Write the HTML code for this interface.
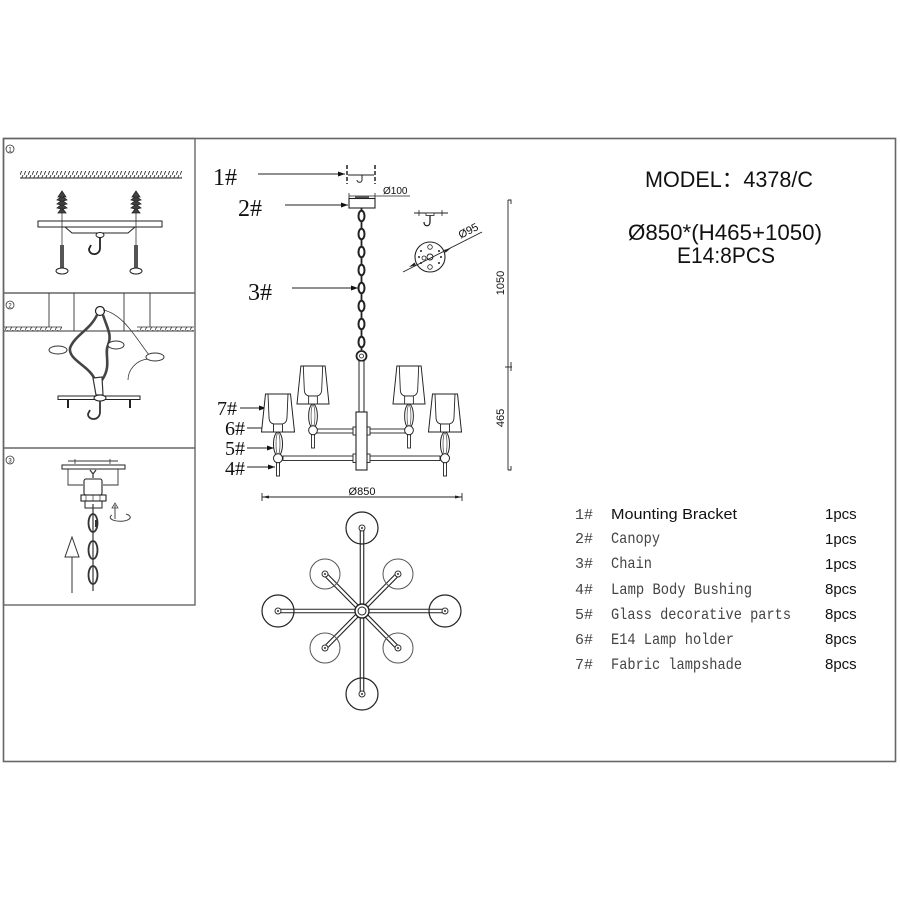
<!DOCTYPE html>
<html><head><meta charset="utf-8"><style>
html,body{margin:0;padding:0;background:#fff;}
svg{display:block;}
.s{font-family:"Liberation Serif","Noto Serif CJK SC",serif;fill:#111;}
.a{font-family:"Liberation Sans","Noto Sans CJK SC",sans-serif;fill:#111;}
.m{font-family:"Liberation Mono","Noto Sans CJK SC",monospace;fill:#444;}
</style></head><body>
<svg width="900" height="900" viewBox="0 0 900 900" xmlns="http://www.w3.org/2000/svg">
<defs>
<pattern id="hatch" patternUnits="userSpaceOnUse" width="4" height="7">
<line x1="0" y1="7" x2="3" y2="0" stroke="#333" stroke-width="0.9"/>
</pattern>
<pattern id="hatch2" patternUnits="userSpaceOnUse" width="5" height="5">
<line x1="0" y1="5" x2="3" y2="0" stroke="#333" stroke-width="0.8"/>
</pattern>
<marker id="ar" markerWidth="8" markerHeight="6" refX="7" refY="3" orient="auto" markerUnits="userSpaceOnUse">
<path d="M0,0.5 L7,3 L0,5.5 Z" fill="#111"/>
</marker>
<g id="lampL">
<polygon points="-12.5,394 12.5,394 16.5,432 -16.5,432" fill="#fff" stroke="#222" stroke-width="1"/>
<path d="M-10,394 L-9,417 Q-9,424 -3,424 L3,424 Q9,424 9,417 L10,394" fill="none" stroke="#222" stroke-width="0.9"/>
<rect x="-4.5" y="424" width="9" height="8" fill="#fff" stroke="#222" stroke-width="0.9"/>
<ellipse cx="0" cy="444" rx="4.5" ry="12" fill="#fff" stroke="#222" stroke-width="1"/>
<ellipse cx="0" cy="444" rx="2" ry="11" fill="none" stroke="#555" stroke-width="0.8"/>
<rect x="-1.5" y="462" width="3" height="14" fill="#fff" stroke="#222" stroke-width="0.9"/>
<circle cx="0" cy="458.3" r="4.5" fill="#fff" stroke="#222" stroke-width="1"/>
</g>
<g id="plug">
<polygon points="62,191 66,197 63,197 67,200 63,201 67,204 63,205 67,208 63,209 66,213 58,213 61,209 57,208 61,205 57,204 61,201 57,200 61,197 58,197" fill="#444" stroke="#222" stroke-width="0.8"/>
<line x1="62" y1="197" x2="62" y2="268" stroke="#333" stroke-width="0.8"/>
<rect x="60" y="245" width="4" height="23" fill="#555"/>
<ellipse cx="62" cy="271" rx="6" ry="3" fill="#fff" stroke="#222" stroke-width="1"/>
</g>
</defs>
<rect width="900" height="900" fill="#fff"/>

<!-- Frame -->
<rect x="3.5" y="138.5" width="892" height="623" fill="none" stroke="#666" stroke-width="1.6"/>
<rect x="3.5" y="138.5" width="191.5" height="466.5" fill="none" stroke="#666" stroke-width="1.4"/>
<line x1="3.5" y1="293" x2="195" y2="293" stroke="#666" stroke-width="1.4"/>
<line x1="3.5" y1="448" x2="195" y2="448" stroke="#666" stroke-width="1.4"/>

<!-- Panel 1 -->
<circle cx="10" cy="149" r="4" fill="none" stroke="#333" stroke-width="0.8"/>
<text x="10" y="151.5" font-size="6" text-anchor="middle" class="a">1</text>
<rect x="20" y="171" width="162" height="7" fill="url(#hatch)"/>
<line x1="20" y1="178" x2="182" y2="178" stroke="#222" stroke-width="1"/>
<use href="#plug"/>
<use href="#plug" transform="translate(74,0)"/>
<rect x="38" y="221" width="124" height="6" fill="#fff" stroke="#222" stroke-width="1"/>
<line x1="62" y1="221" x2="62" y2="227" stroke="#333" stroke-width="0.8"/>
<line x1="136" y1="221" x2="136" y2="227" stroke="#333" stroke-width="0.8"/>
<path d="M65,227 L72,233 L128,233 L135,227" fill="none" stroke="#222" stroke-width="1"/>
<ellipse cx="100" cy="235" rx="4" ry="2.5" fill="#fff" stroke="#222" stroke-width="1"/>
<path d="M100,237 L100,248 C100,256 89,256 89,249 L91,245" fill="none" stroke="#222" stroke-width="1.8"/>

<!-- Panel 2 -->
<circle cx="10" cy="305" r="4" fill="none" stroke="#333" stroke-width="0.8"/>
<text x="10" y="307.5" font-size="6" text-anchor="middle" class="a">2</text>
<line x1="49" y1="293" x2="49" y2="327" stroke="#333" stroke-width="0.9"/>
<line x1="74" y1="293" x2="74" y2="331" stroke="#333" stroke-width="0.9"/>
<line x1="124" y1="293" x2="124" y2="331" stroke="#333" stroke-width="0.9"/>
<line x1="150" y1="293" x2="150" y2="327" stroke="#333" stroke-width="0.9"/>
<rect x="4" y="327" width="58" height="4" fill="url(#hatch2)"/>
<rect x="137" y="327" width="57" height="4" fill="url(#hatch2)"/>
<line x1="4" y1="327" x2="62" y2="327" stroke="#333" stroke-width="0.8"/>
<line x1="137" y1="327" x2="194" y2="327" stroke="#333" stroke-width="0.8"/>
<line x1="4" y1="331" x2="194" y2="331" stroke="#333" stroke-width="1"/>
<circle cx="100" cy="311" r="4.5" fill="#fff" stroke="#222" stroke-width="1.2"/>
<path d="M97,315 C90,330 75,335 70,348 C68,360 90,366 95,380" fill="none" stroke="#444" stroke-width="2.6"/>
<path d="M103,315 C108,330 112,335 108,345 C104,354 112,366 102,380" fill="none" stroke="#444" stroke-width="2.6"/>
<path d="M103,310 C125,314 140,345 150,356" fill="none" stroke="#333" stroke-width="0.8"/>
<path d="M148,359 C136,360 128,370 128,380" fill="none" stroke="#333" stroke-width="0.8"/>
<ellipse cx="58" cy="350" rx="9" ry="4" fill="#fff" stroke="#333" stroke-width="1"/>
<ellipse cx="116" cy="345" rx="8" ry="4" fill="#fff" stroke="#333" stroke-width="1"/>
<ellipse cx="155" cy="357" rx="9" ry="4" fill="#fff" stroke="#333" stroke-width="1"/>
<path d="M93,378 L102,377 L103,395 L96,395 Z" fill="#fff" stroke="#333" stroke-width="1.2"/>
<rect x="58" y="396" width="82" height="3.5" fill="#fff" stroke="#222" stroke-width="1"/>
<line x1="68" y1="400" x2="68" y2="408" stroke="#222" stroke-width="2"/>
<line x1="130" y1="400" x2="130" y2="408" stroke="#222" stroke-width="2"/>
<ellipse cx="100" cy="398" rx="6" ry="3" fill="#fff" stroke="#222" stroke-width="1"/>
<path d="M100,401 L100,412 C100,421 88,421 88,414 L90,410" fill="none" stroke="#333" stroke-width="1.8"/>

<!-- Panel 3 -->
<circle cx="10" cy="460" r="4" fill="none" stroke="#333" stroke-width="0.8"/>
<text x="10" y="462.5" font-size="6" text-anchor="middle" class="a">3</text>
<line x1="68" y1="461" x2="118" y2="461" stroke="#333" stroke-width="0.9"/>
<line x1="75" y1="459" x2="75" y2="464" stroke="#333" stroke-width="0.8"/>
<line x1="110" y1="459" x2="110" y2="464" stroke="#333" stroke-width="0.8"/>
<rect x="62" y="465" width="63" height="4" fill="#fff" stroke="#222" stroke-width="1"/>
<path d="M68,469 L68,485 L83,485 M118,469 L118,485 L103,485" fill="none" stroke="#333" stroke-width="0.9"/>
<path d="M90,470 L93,474 L96,470 M93,474 L93,478" fill="none" stroke="#333" stroke-width="1.2"/>
<rect x="84" y="479" width="18" height="16" rx="2" fill="#fff" stroke="#222" stroke-width="1.1"/>
<rect x="81" y="495" width="25" height="6" fill="#fff" stroke="#222" stroke-width="1.1"/>
<line x1="86" y1="495" x2="86" y2="501" stroke="#333" stroke-width="0.7"/>
<line x1="93" y1="495" x2="93" y2="501" stroke="#333" stroke-width="0.7"/>
<line x1="100" y1="495" x2="100" y2="501" stroke="#333" stroke-width="0.7"/>
<path d="M85,501 L85,508 L102,508 L102,501" fill="none" stroke="#222" stroke-width="1"/>
<line x1="93" y1="504" x2="93" y2="591" stroke="#333" stroke-width="1.2"/>
<ellipse cx="93" cy="523" rx="4.5" ry="9" fill="none" stroke="#333" stroke-width="1.8"/>
<ellipse cx="93" cy="550" rx="4.5" ry="9" fill="none" stroke="#333" stroke-width="1.8"/>
<ellipse cx="93" cy="575" rx="4.5" ry="9" fill="none" stroke="#333" stroke-width="1.8"/>
<rect x="95" y="520" width="3" height="7" fill="#333"/>
<path d="M112,515 A10,4 0 1 0 126,514" fill="none" stroke="#444" stroke-width="1"/>
<line x1="115" y1="519" x2="115" y2="505" stroke="#444" stroke-width="1"/>
<path d="M112,508 L115,503 L118,508 Z" fill="none" stroke="#444" stroke-width="0.8"/>
<path d="M72,537 L79,557 L65,557 Z" fill="#fff" stroke="#333" stroke-width="1"/>
<line x1="72" y1="557" x2="72" y2="593" stroke="#333" stroke-width="1"/>

<!-- Main drawing labels -->
<text x="213" y="185" font-size="24" class="s">1#</text>
<line x1="258" y1="174" x2="345" y2="174" stroke="#222" stroke-width="1" marker-end="url(#ar)"/>
<text x="238" y="216" font-size="24" class="s">2#</text>
<line x1="285" y1="205" x2="348" y2="205" stroke="#222" stroke-width="1" marker-end="url(#ar)"/>
<text x="248" y="300" font-size="24" class="s">3#</text>
<line x1="292" y1="288" x2="358" y2="288" stroke="#222" stroke-width="1" marker-end="url(#ar)"/>
<text x="217" y="415" font-size="20" class="s">7#</text>
<line x1="240" y1="408" x2="266" y2="408" stroke="#222" stroke-width="1" marker-end="url(#ar)"/>
<text x="225" y="435" font-size="20" class="s">6#</text>
<line x1="247" y1="428" x2="274" y2="428" stroke="#222" stroke-width="1" marker-end="url(#ar)"/>
<text x="225" y="455" font-size="20" class="s">5#</text>
<line x1="247" y1="448" x2="274" y2="448" stroke="#222" stroke-width="1" marker-end="url(#ar)"/>
<text x="225" y="475" font-size="20" class="s">4#</text>
<line x1="247" y1="467" x2="275" y2="467" stroke="#222" stroke-width="1" marker-end="url(#ar)"/>

<!-- Mounting bracket -->
<line x1="347" y1="165" x2="347" y2="184" stroke="#222" stroke-width="1.5" stroke-dasharray="4,2"/>
<line x1="375" y1="165" x2="375" y2="184" stroke="#222" stroke-width="1.5" stroke-dasharray="4,2"/>
<line x1="348" y1="175" x2="374" y2="175" stroke="#222" stroke-width="1"/>
<path d="M362,175 L362,180 C362,183 357,183 357,180" fill="none" stroke="#222" stroke-width="1"/>

<!-- Canopy -->
<line x1="349" y1="196" x2="410" y2="196" stroke="#222" stroke-width="0.8"/>
<line x1="349" y1="193" x2="349" y2="199" stroke="#222" stroke-width="0.8"/>
<line x1="375" y1="193" x2="375" y2="199" stroke="#222" stroke-width="0.8"/>
<text x="383" y="194" font-size="10" class="a">Ø100</text>
<rect x="355" y="196" width="14" height="2.5" fill="#555"/>
<rect x="349" y="198.5" width="26" height="9.5" fill="#fff" stroke="#222" stroke-width="1.1"/>

<!-- Chain -->
<line x1="361.5" y1="208" x2="361.5" y2="350" stroke="#222" stroke-width="1.8"/>
<g fill="#fff" stroke="#222" stroke-width="2">
<ellipse cx="361.5" cy="216" rx="3" ry="5.3"/>
<ellipse cx="361.5" cy="234" rx="3" ry="5.3"/>
<ellipse cx="361.5" cy="252" rx="3" ry="5.3"/>
<ellipse cx="361.5" cy="270" rx="3" ry="5.3"/>
<ellipse cx="361.5" cy="288" rx="3" ry="5.3"/>
<ellipse cx="361.5" cy="306" rx="3" ry="5.3"/>
<ellipse cx="361.5" cy="324" rx="3" ry="5.3"/>
<ellipse cx="361.5" cy="342" rx="3" ry="5.3"/>
</g>
<circle cx="361.5" cy="356" r="5" fill="#fff" stroke="#222" stroke-width="1.8"/>
<circle cx="361.5" cy="356" r="2" fill="#fff" stroke="#222" stroke-width="0.8"/>

<!-- Hook bracket detail & plate -->
<line x1="414" y1="213" x2="448" y2="213" stroke="#222" stroke-width="1"/>
<line x1="419" y1="210" x2="419" y2="216" stroke="#222" stroke-width="0.8"/>
<line x1="442" y1="210" x2="442" y2="216" stroke="#222" stroke-width="0.8"/>
<rect x="426" y="213" width="8" height="2.5" fill="#fff" stroke="#222" stroke-width="0.8"/>
<path d="M430,215.5 L430,222 C430,227 424,227 424,222" fill="none" stroke="#222" stroke-width="1.3"/>
<circle cx="430" cy="257" r="15" fill="#fff" stroke="#222" stroke-width="1.1"/>
<circle cx="430" cy="257" r="3" fill="none" stroke="#222" stroke-width="0.9"/>
<circle cx="424" cy="258" r="2" fill="none" stroke="#222" stroke-width="0.8"/>
<circle cx="430" cy="247" r="2.3" fill="none" stroke="#222" stroke-width="0.8"/>
<circle cx="430" cy="267" r="2.3" fill="none" stroke="#222" stroke-width="0.8"/>
<g fill="#222">
<circle cx="439" cy="251" r="1"/><circle cx="421" cy="251" r="1"/>
<circle cx="439" cy="263" r="1"/><circle cx="421" cy="263" r="1"/>
<circle cx="441" cy="257" r="1"/><circle cx="419" cy="257" r="1"/>
</g>
<line x1="403" y1="272" x2="482" y2="232" stroke="#222" stroke-width="0.9"/>
<path d="M416,265.4 L409,267 L414.5,262.5 Z" fill="#222"/>
<path d="M444,250 L451,248 L445.5,252.8 Z" fill="#222"/>
<text x="470" y="234" font-size="11" class="a" text-anchor="middle" transform="rotate(-27 470 234)">Ø95</text>

<!-- Vertical dims -->
<line x1="508" y1="200" x2="508" y2="470" stroke="#222" stroke-width="0.9"/>
<path d="M508,200 L511,200 L511,204" fill="none" stroke="#222" stroke-width="0.9"/>
<line x1="505" y1="367" x2="512" y2="367" stroke="#222" stroke-width="0.9"/>
<line x1="511" y1="362" x2="511" y2="371" stroke="#222" stroke-width="0.9"/>
<path d="M508,470 L511,470 L511,466" fill="none" stroke="#222" stroke-width="0.9"/>
<text x="0" y="0" font-size="11" class="a" text-anchor="middle" transform="translate(504,283) rotate(-90)">1050</text>
<text x="0" y="0" font-size="11" class="a" text-anchor="middle" transform="translate(504,418) rotate(-90)">465</text>

<!-- Central body -->
<rect x="359" y="361" width="5" height="51" fill="#fff" stroke="#222" stroke-width="1"/>
<g fill="#fff" stroke="#222" stroke-width="0.9">
<rect x="317" y="429" width="39" height="4"/>
<rect x="367" y="429" width="38" height="4"/>
<rect x="283" y="456" width="73" height="4.5"/>
<rect x="367" y="456" width="73" height="4.5"/>
<rect x="353" y="427" width="3" height="8"/>
<rect x="367" y="427" width="3" height="8"/>
<rect x="353" y="454" width="3" height="8.5"/>
<rect x="367" y="454" width="3" height="8.5"/>
</g>
<rect x="356" y="412" width="11" height="58" fill="#fff" stroke="#222" stroke-width="1.1"/>

<!-- Lamp units -->
<use href="#lampL" transform="translate(278,0)"/>
<use href="#lampL" transform="translate(445,0)"/>
<use href="#lampL" transform="translate(313,-28) scale(0.97,1)"/>
<use href="#lampL" transform="translate(409,-28) scale(0.97,1)"/>

<!-- Ø850 dim -->
<line x1="262" y1="497" x2="462" y2="497" stroke="#222" stroke-width="0.9"/>
<line x1="262" y1="493" x2="262" y2="501" stroke="#222" stroke-width="0.9"/>
<line x1="462" y1="493" x2="462" y2="501" stroke="#222" stroke-width="0.9"/>
<path d="M262,497 L269,495.5 L269,498.5 Z" fill="#222"/>
<path d="M462,497 L455,495.5 L455,498.5 Z" fill="#222"/>
<text x="362" y="495" font-size="11" class="a" text-anchor="middle">Ø850</text>

<!-- Top view -->
<g stroke="#222" stroke-width="4.6" stroke-linecap="butt">
<line x1="278" y1="611" x2="445" y2="611"/>
<line x1="362" y1="528" x2="362" y2="694"/>
<line x1="325" y1="574" x2="398" y2="648"/>
<line x1="398" y1="574" x2="325" y2="648"/>
</g>
<g stroke="#fff" stroke-width="2.4">
<line x1="279" y1="611" x2="444" y2="611"/>
<line x1="362" y1="529" x2="362" y2="693"/>
<line x1="326" y1="575" x2="397" y2="647"/>
<line x1="397" y1="575" x2="326" y2="647"/>
</g>
<g fill="none" stroke="#222" stroke-width="1.2">
<circle cx="362" cy="528" r="16"/>
<circle cx="362" cy="694" r="16"/>
<circle cx="278" cy="611" r="16"/>
<circle cx="445" cy="611" r="16"/>
</g>
<g fill="none" stroke="#555" stroke-width="1">
<circle cx="325" cy="574" r="15"/>
<circle cx="398" cy="574" r="15"/>
<circle cx="325" cy="648" r="15"/>
<circle cx="398" cy="648" r="15"/>
</g>
<g fill="#fff" stroke="#333" stroke-width="1">
<circle cx="362" cy="528" r="3"/><circle cx="362" cy="694" r="3"/>
<circle cx="278" cy="611" r="3"/><circle cx="445" cy="611" r="3"/>
<circle cx="325" cy="574" r="3"/><circle cx="398" cy="574" r="3"/>
<circle cx="325" cy="648" r="3"/><circle cx="398" cy="648" r="3"/>
</g>
<g fill="#333">
<circle cx="362" cy="528" r="1"/><circle cx="362" cy="694" r="1"/>
<circle cx="278" cy="611" r="1"/><circle cx="445" cy="611" r="1"/>
<circle cx="325" cy="574" r="1"/><circle cx="398" cy="574" r="1"/>
<circle cx="325" cy="648" r="1"/><circle cx="398" cy="648" r="1"/>
</g>
<circle cx="362" cy="611" r="7" fill="#fff" stroke="#222" stroke-width="1.4"/>
<circle cx="362" cy="611" r="4" fill="#fff" stroke="#222" stroke-width="1"/>

<!-- Right text -->
<text x="645" y="187" font-size="22" class="a" textLength="168" lengthAdjust="spacingAndGlyphs">MODEL：4378/C</text>
<text x="628" y="240" font-size="22" class="a" textLength="194" lengthAdjust="spacingAndGlyphs">Ø850*(H465+1050)</text>
<text x="677" y="263" font-size="22" class="a" textLength="98" lengthAdjust="spacingAndGlyphs">E14:8PCS</text>

<!-- Parts list -->
<g font-size="15">
<text x="575" y="519" class="m" fill="#333">1#</text>
<text x="575" y="543" class="m">2#</text>
<text x="575" y="568" class="m">3#</text>
<text x="575" y="594" class="m">4#</text>
<text x="575" y="619" class="m">5#</text>
<text x="575" y="644" class="m">6#</text>
<text x="575" y="669" class="m">7#</text>
</g>
<text x="611" y="519" font-size="15" class="a" textLength="126" lengthAdjust="spacingAndGlyphs">Mounting Bracket</text>
<g font-size="16">
<text x="611" y="543" class="m" textLength="49" lengthAdjust="spacingAndGlyphs">Canopy</text>
<text x="611" y="568" class="m" textLength="41" lengthAdjust="spacingAndGlyphs">Chain</text>
<text x="611" y="594" class="m" textLength="141" lengthAdjust="spacingAndGlyphs">Lamp Body Bushing</text>
<text x="611" y="619" class="m" textLength="180" lengthAdjust="spacingAndGlyphs">Glass decorative parts</text>
<text x="611" y="644" class="m" textLength="123" lengthAdjust="spacingAndGlyphs">E14 Lamp holder</text>
<text x="611" y="669" class="m" textLength="131" lengthAdjust="spacingAndGlyphs">Fabric lampshade</text>
</g>
<g font-size="15">
<text x="825" y="519" class="a">1pcs</text>
<text x="825" y="544" class="a">1pcs</text>
<text x="825" y="569" class="a">1pcs</text>
<text x="825" y="594" class="a">8pcs</text>
<text x="825" y="619" class="a">8pcs</text>
<text x="825" y="644" class="a">8pcs</text>
<text x="825" y="669" class="a">8pcs</text>
</g>
</svg>
</body></html>
